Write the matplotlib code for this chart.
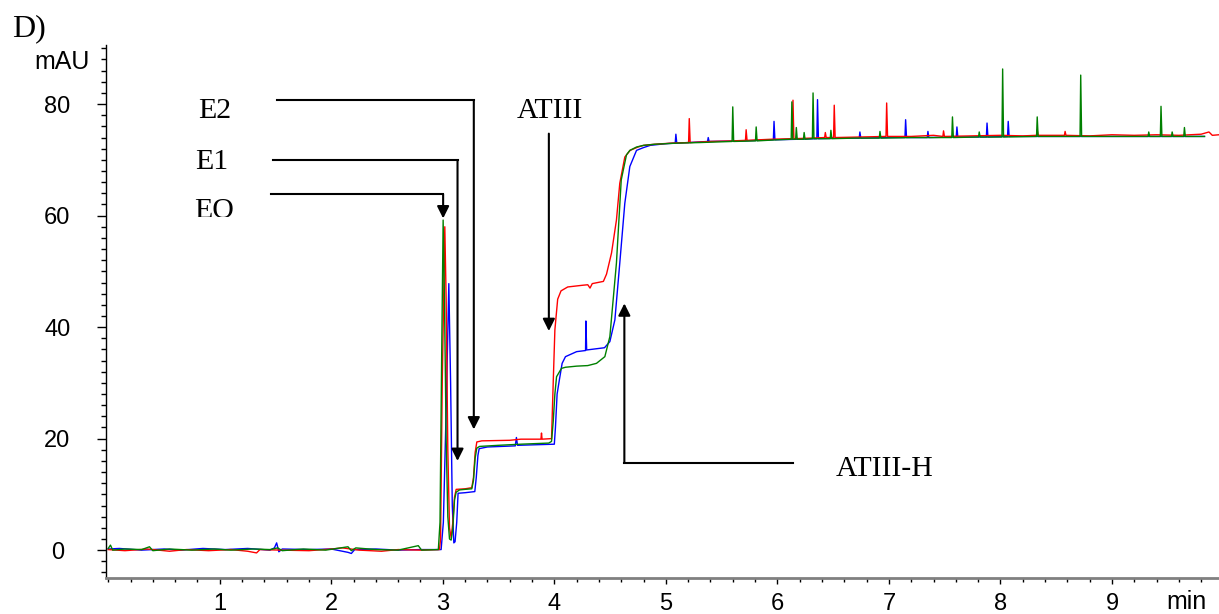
import matplotlib
matplotlib.use("Agg")
import matplotlib.pyplot as plt
from matplotlib.patches import Rectangle
from matplotlib.ticker import MultipleLocator

# retention time (min) / absorbance (mAU)
blue_t = [0.00, 0.10, 0.30, 0.50, 0.65, 0.85, 1.05, 1.25, 1.45, 1.49, 1.51, 1.53, 1.56, 1.80, 2.00,
          2.15, 2.18, 2.21, 2.40, 2.60, 2.80, 2.985, 3.005, 3.03, 3.054, 3.07, 3.085, 3.099, 3.11,
          3.125, 3.137, 3.20, 3.287, 3.30, 3.315, 3.326, 3.40, 3.65, 3.66, 3.67, 4.00, 4.01, 4.025,
          4.045, 4.07, 4.10, 4.20, 4.28, 4.283, 4.29, 4.45, 4.498, 4.543, 4.587, 4.632, 4.677, 4.737,
          4.80, 4.86, 5.00, 5.084, 5.09, 5.098, 5.30, 5.374, 5.38, 5.388, 5.70, 5.964, 5.97, 5.978,
          6.20, 6.354, 6.36, 6.368, 6.60, 6.734, 6.74, 6.748, 7.00, 7.144, 7.15, 7.158, 7.344, 7.35,
          7.358, 7.604, 7.61, 7.618, 7.874, 7.88, 7.888, 8.064, 8.07, 8.078, 8.50, 9.00, 9.50, 9.83]
blue_v = [0.2, 0.3, 0.0, 0.2, 0.0, 0.3, 0.1, 0.3, 0.0, 0.4, 1.3, -0.3, 0.2, 0.1, 0.2,
          -0.4, -0.6, 0.1, 0.2, 0.0, 0.1, 0.1, 5.0, 25.0, 47.8, 30.0, 8.0, 1.3, 1.5,
          5.0, 10.2, 10.3, 10.5, 13.0, 17.0, 18.2, 18.5, 18.7, 20.2, 18.8, 19.0, 22.0, 28.0,
          30.5, 33.5, 34.7, 35.6, 35.8, 41.1, 35.9, 36.3, 37.4, 41.3, 51.5, 62.2, 68.8, 71.7,
          72.2, 72.6, 72.9, 73.0, 74.6, 73.0, 73.2, 73.3, 74.0, 73.3, 73.4, 73.6, 76.9, 73.6,
          73.7, 73.8, 80.8, 73.8, 73.9, 73.9, 75.0, 73.9, 74.0, 74.0, 77.2, 74.0, 74.0, 75.1,
          74.0, 74.1, 75.9, 74.1, 74.1, 76.6, 74.1, 74.2, 76.9, 74.2, 74.2, 74.2, 74.2, 74.2]

red_t = [0.00, 0.15, 0.35, 0.55, 0.70, 0.90, 1.10, 1.25, 1.33, 1.36, 1.55, 1.80, 2.00, 2.10, 2.25,
         2.45, 2.60, 2.80, 2.97, 2.98, 2.995, 3.018, 3.03, 3.045, 3.06, 3.075, 3.09, 3.105, 3.12,
         3.20, 3.26, 3.275, 3.29, 3.305, 3.35, 3.60, 3.70, 3.88, 3.885, 3.89, 3.975, 3.99, 4.005,
         4.03, 4.06, 4.12, 4.25, 4.30, 4.32, 4.34, 4.44, 4.468, 4.513, 4.557, 4.587, 4.632, 4.68,
         4.75, 4.80, 4.90, 5.05, 5.204, 5.21, 5.218, 5.40, 5.60, 5.714, 5.72, 5.728, 5.95, 6.134,
         6.14, 6.148, 6.30, 6.424, 6.43, 6.438, 6.504, 6.51, 6.518, 6.75, 6.974, 6.98, 6.988, 7.20,
         7.40, 7.484, 7.49, 7.498, 7.75, 8.00, 8.20, 8.324, 8.33, 8.338, 8.574, 8.58, 8.588, 8.80,
         9.00, 9.20, 9.40, 9.60, 9.80, 9.87, 9.90, 9.96]
red_v = [0.1, -0.1, 0.2, -0.2, 0.1, -0.1, 0.1, -0.2, -0.5, 0.1, 0.0, -0.1, 0.2, 0.4, 0.0,
         -0.2, 0.1, 0.0, 0.1, 2.0, 30.0, 58.0, 45.0, 18.0, 4.0, 2.2, 5.0, 9.5, 10.9,
         11.0, 11.2, 13.0, 17.5, 19.4, 19.6, 19.7, 19.9, 19.9, 21.0, 19.9, 20.0, 30.0, 39.5,
         45.0, 46.5, 47.2, 47.5, 47.6, 47.0, 47.8, 48.2, 49.5, 53.3, 59.2, 65.8, 70.5, 71.7,
         72.3, 72.6, 72.8, 73.0, 73.1, 77.4, 73.1, 73.3, 73.4, 73.5, 75.4, 73.5, 73.7, 73.8,
         80.7, 73.8, 73.9, 74.0, 74.9, 74.0, 74.0, 79.8, 74.0, 74.1, 74.2, 80.2, 74.2, 74.2,
         74.4, 74.2, 75.2, 74.2, 74.3, 74.4, 74.3, 74.4, 75.4, 74.4, 74.4, 75.1, 74.4, 74.3,
         74.5, 74.4, 74.5, 74.4, 74.6, 75.0, 74.4, 74.5]

green_t = [0.00, 0.02, 0.04, 0.15, 0.30, 0.37, 0.40, 0.55, 0.75, 0.95, 1.10, 1.30, 1.45, 1.52, 1.56,
           1.75, 1.95, 2.15, 2.18, 2.22, 2.40, 2.60, 2.78, 2.81, 2.96, 2.975, 2.99, 3.003, 3.015,
           3.03, 3.045, 3.06, 3.075, 3.09, 3.105, 3.12, 3.15, 3.20, 3.26, 3.275, 3.29, 3.305, 3.33,
           3.50, 3.70, 3.95, 3.975, 3.99, 4.005, 4.02, 4.064, 4.10, 4.20, 4.30, 4.378, 4.453, 4.498,
           4.557, 4.60, 4.647, 4.677, 4.737, 4.80, 4.90, 5.10, 5.30, 5.594, 5.60, 5.608, 5.804, 5.81,
           5.818, 6.00, 6.124, 6.13, 6.138, 6.164, 6.17, 6.178, 6.234, 6.24, 6.248, 6.314, 6.32, 6.328,
           6.474, 6.48, 6.488, 6.70, 6.914, 6.92, 6.928, 7.20, 7.564, 7.57, 7.578, 7.804, 7.81, 7.818,
           8.014, 8.02, 8.028, 8.324, 8.33, 8.338, 8.714, 8.72, 8.728, 9.00, 9.324, 9.33, 9.338,
           9.434, 9.44, 9.448, 9.534, 9.54, 9.548, 9.644, 9.65, 9.658, 9.83]
green_v = [0.3, 0.9, 0.0, 0.2, 0.1, 0.6, -0.1, 0.2, 0.0, 0.2, 0.0, 0.2, 0.1, 0.4, -0.1,
           0.2, 0.0, 0.6, -0.1, 0.4, 0.1, 0.0, 0.8, 0.0, 0.1, 5.0, 35.0, 59.2, 45.0,
           20.0, 6.0, 2.0, 1.8, 4.0, 9.0, 10.4, 10.8, 10.9, 11.0, 12.5, 16.5, 18.3, 18.6,
           18.8, 19.0, 19.2, 19.5, 23.0, 28.0, 31.1, 32.6, 32.8, 33.0, 33.1, 33.5, 34.7, 38.3,
           51.5, 66.4, 70.9, 71.7, 72.3, 72.6, 72.8, 73.0, 73.1, 73.3, 79.5, 73.3, 73.4, 75.9,
           73.4, 73.6, 73.7, 80.4, 73.7, 73.7, 75.8, 73.7, 73.7, 74.9, 73.7, 73.8, 82.0, 73.8,
           73.8, 75.3, 73.8, 73.9, 73.9, 75.1, 73.9, 74.0, 74.0, 77.7, 74.0, 74.1, 75.0, 74.1,
           74.1, 86.3, 74.1, 74.2, 77.7, 74.2, 74.2, 85.2, 74.2, 74.2, 74.2, 75.0, 74.2,
           74.2, 79.6, 74.2, 74.2, 75.0, 74.2, 74.2, 75.8, 74.2, 74.2]

x_ticks = [1, 2, 3, 4, 5, 6, 7, 8, 9]
y_ticks = [0, 20, 40, 60, 80]

serif = "Liberation Serif"
sans = "Liberation Sans"
lab_size = 21.5

fig = plt.figure(figsize=(12.19, 6.14), dpi=100)
ax = fig.add_axes([106 / 1219, 36 / 614, 1113 / 1219, 533 / 614])

ax.plot(blue_t, blue_v, color="#0000ff", lw=1.0)
ax.plot(red_t, red_v, color="#ff0000", lw=1.0)
ax.plot(green_t, green_v, color="#008000", lw=1.0)

ax.set_xlim(-0.02, 9.96)
ax.set_ylim(-5, 90.6)

for s in ["top", "right"]:
    ax.spines[s].set_visible(False)
ax.spines["left"].set_linewidth(1.0)
ax.spines["bottom"].set_color("#808080")
ax.spines["bottom"].set_linewidth(2.0)

ax.set_xticks(x_ticks)
ax.set_yticks(y_ticks)
ax.xaxis.set_minor_locator(MultipleLocator(0.2))
ax.yaxis.set_minor_locator(MultipleLocator(2))
ax.tick_params(axis="y", which="major", direction="out", length=6.5, width=1, pad=28.5,
               labelsize=17)
ax.tick_params(axis="y", which="minor", direction="out", length=3.6, width=1)
ax.tick_params(axis="x", which="major", direction="out", length=4.5, width=1, pad=6.5,
               labelsize=17)
ax.tick_params(axis="x", which="minor", direction="out", length=3, width=1)
for lab in ax.get_yticklabels():
    lab.set_horizontalalignment("center")
    lab.set_fontfamily(sans)
for lab in ax.get_xticklabels():
    lab.set_fontfamily(sans)

fig.text(62.5 / 1219, 1 - 62 / 614, "mAU", ha="center", va="center", fontsize=18, family=sans)
fig.text(1186 / 1219, 1 - 602 / 614, "min", ha="center", va="center", fontsize=18, family=sans)
fig.text(12 / 1219, 1 - 29 / 614, "D)", ha="left", va="center", fontsize=23, family=serif)

# peak labels and their leader arrows
lw_ann = 1.5
arrow = dict(arrowstyle="-|>", color="black", lw=lw_ann, mutation_scale=18,
             shrinkA=0, shrinkB=0)

ax.text(0.955, 77.5, "E2", ha="center", va="baseline", fontsize=lab_size, family=serif)
ax.plot([1.509, 3.278], [80.7, 80.7], color="black", lw=lw_ann, solid_capstyle="projecting")
ax.annotate("", xy=(3.278, 21.65), xytext=(3.278, 80.7), arrowprops=arrow)

ax.text(0.924, 68.4, "E1", ha="center", va="baseline", fontsize=lab_size, family=serif)
ax.plot([1.473, 3.132], [69.96, 69.96], color="black", lw=lw_ann, solid_capstyle="projecting")
ax.annotate("", xy=(3.132, 16.0), xytext=(3.132, 69.96), arrowprops=arrow)

ax.text(0.951, 59.5, "EO", ha="center", va="baseline", fontsize=lab_size, family=serif, zorder=3)
ax.add_patch(Rectangle((0.5, 55.0), 0.9, 4.8, facecolor="white", edgecolor="none", zorder=6))
ax.plot([1.457, 3.003], [63.8, 63.8], color="black", lw=lw_ann, solid_capstyle="projecting")
ax.annotate("", xy=(3.003, 59.5), xytext=(3.003, 63.8), arrowprops=arrow)

ax.text(3.96, 77.5, "ATIII", ha="center", va="baseline", fontsize=lab_size, family=serif)
ax.annotate("", xy=(3.951, 39.3), xytext=(3.951, 74.7), arrowprops=arrow)

ax.text(6.96, 13.3, "ATIII-H", ha="center", va="baseline", fontsize=lab_size, family=serif)
ax.plot([6.136, 4.628], [15.66, 15.66], color="black", lw=lw_ann, solid_capstyle="projecting")
ax.annotate("", xy=(4.628, 44.25), xytext=(4.628, 15.66), arrowprops=arrow)

fig.savefig("out.png", dpi=100)
